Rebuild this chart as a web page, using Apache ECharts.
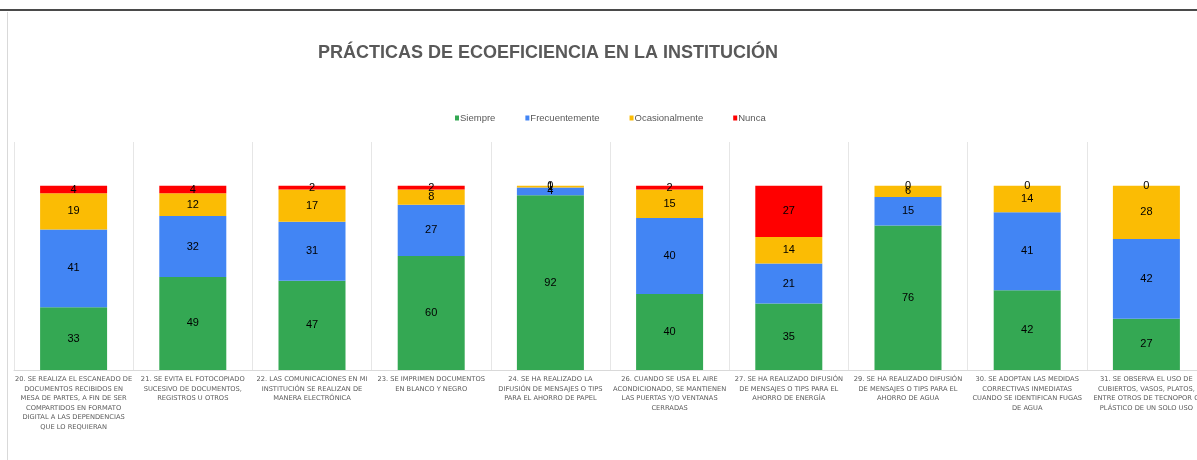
<!DOCTYPE html>
<html>
<head>
<meta charset="utf-8">
<script src="https://cdn.jsdelivr.net/npm/echarts@6/dist/echarts.min.js"></script>
<style>
  html, body { margin: 0; padding: 0; background: #fff; overflow: hidden; }
  #chart { width: 1210px; height: 460px; }
</style>
</head>
<body>
<div id="chart"></div>
<script>
    // categorias (eje x)
    var categories = [
        '20. SE REALIZA EL ESCANEADO DE\nDOCUMENTOS RECIBIDOS EN\nMESA DE PARTES, A FIN DE SER\nCOMPARTIDOS EN FORMATO\nDIGITAL A LAS DEPENDENCIAS\nQUE LO REQUIERAN',
        '21. SE EVITA EL FOTOCOPIADO\nSUCESIVO DE DOCUMENTOS,\nREGISTROS U OTROS',
        '22. LAS COMUNICACIONES EN MI\nINSTITUCIÓN SE REALIZAN DE\nMANERA ELECTRÓNICA',
        '23. SE IMPRIMEN DOCUMENTOS\nEN BLANCO Y NEGRO',
        '24. SE HA REALIZADO LA\nDIFUSIÓN DE MENSAJES O TIPS\nPARA EL AHORRO DE PAPEL',
        '26. CUANDO SE USA EL AIRE\nACONDICIONADO, SE MANTIENEN\nLAS PUERTAS Y/O VENTANAS\nCERRADAS',
        '27. SE HA REALIZADO DIFUSIÓN\nDE MENSAJES O TIPS PARA EL\nAHORRO DE ENERGÍA',
        '29. SE HA REALIZADO DIFUSIÓN\nDE MENSAJES O TIPS PARA EL\nAHORRO DE AGUA',
        '30. SE ADOPTAN LAS MEDIDAS\nCORRECTIVAS INMEDIATAS\nCUANDO SE IDENTIFICAN FUGAS\nDE AGUA',
        '31. SE OBSERVA EL USO DE\nCUBIERTOS, VASOS, PLATOS,\nENTRE OTROS DE TECNOPOR O\nPLÁSTICO DE UN SOLO USO'
    ];
    var siempre        = [33, 49, 47, 60, 92, 40, 35, 76, 42, 27];
    var frecuentemente = [41, 32, 31, 27, 4, 40, 21, 15, 41, 42];
    var ocasionalmente = [19, 12, 17, 8, 1, 15, 14, 6, 14, 28];
    var nunca          = [4, 4, 2, 2, 0, 2, 27, 0, 0, 0];

    var FONT = '"Liberation Sans", Arial, sans-serif';

    var dom = document.getElementById('chart');
    var myChart = echarts.init(dom);

    function barSerie(name, data, color) {
        return {
            name: name,
            type: 'bar',
            stack: 'total',
            barWidth: 67,
            color: color,
            label: {
                show: true,
                position: 'inside',
                color: '#000',
                fontSize: 11,
                fontFamily: FONT
            },
            data: data
        };
    }

    var option = {
        animation: false,
        backgroundColor: '#fff',
        title: {
            text: 'PRÁCTICAS DE ECOEFICIENCIA EN LA INSTITUCIÓN',
            left: 313,
            top: 39,
            textStyle: {
                color: '#595959',
                fontSize: 18,
                fontWeight: 'bold',
                fontFamily: FONT
            }
        },
        legend: {
            left: 450,
            top: 108,
            icon: 'rect',
            itemWidth: 4,
            itemHeight: 5,
            itemGap: 30,
            textStyle: { color: '#595959', fontSize: 9.5, fontFamily: FONT, padding: [0, 0, 0, -4] },
            data: ['Siempre', 'Frecuentemente', 'Ocasionalmente', 'Nunca']
        },
        grid: { left: 14, right: 4, top: 142, bottom: 90 },
        xAxis: {
            type: 'category',
            data: categories,
            axisLine: { lineStyle: { color: '#d9d9d9' } },
            axisTick: { show: false },
            splitLine: { show: true, lineStyle: { color: '#e6e6e6' } },
            axisLabel: {
                interval: 0,
                color: '#595959',
                fontSize: 6.7,
                lineHeight: 9.5,
                margin: 5,
                fontFamily: '"DejaVu Sans", sans-serif'
            }
        },
        yAxis: {
            type: 'value',
            min: 0,
            max: 120,
            show: false,
            splitLine: { show: false }
        },
        graphic: [
            { type: 'rect', shape: { x: 0, y: 9, width: 1210, height: 2 }, style: { fill: '#4a4a4a' } },
            { type: 'line', shape: { x1: 7.5, y1: 12, x2: 7.5, y2: 460 }, style: { stroke: '#d9d9d9', lineWidth: 1 } }
        ],
        series: [
            barSerie('Siempre', siempre, '#34a853'),
            barSerie('Frecuentemente', frecuentemente, '#4285f4'),
            barSerie('Ocasionalmente', ocasionalmente, '#fbbc04'),
            barSerie('Nunca', nunca, '#ff0000')
        ]
    };

    myChart.setOption(option);
</script>
</body>
</html>
